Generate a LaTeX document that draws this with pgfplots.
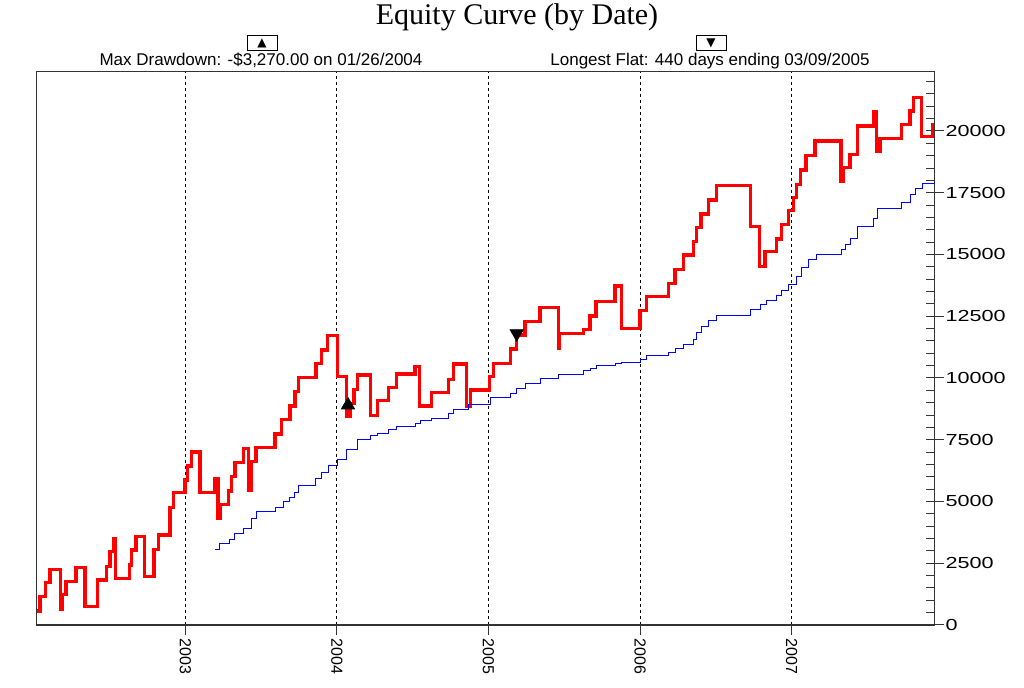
\documentclass[border=0pt]{standalone}
\usepackage{pgfplots}
\pgfplotsset{compat=1.18}
\usepackage{graphicx}
\usepackage{fontspec}
\setmainfont{Liberation Sans}
\newfontfamily\seriffont{Liberation Serif}
\newfontfamily\dejavu{DejaVu Sans}
\begin{document}
\begin{tikzpicture}
\begin{axis}[
  at={(0,0)}, anchor=south west,
  scale only axis, width=448.8pt, height=276.65pt,
  xmin=2002.0198, xmax=2007.9406, ymin=0, ymax=22400,
  axis line style={black!80, line width=0.6pt},
  scaled x ticks=false, scaled y ticks=false,
  /pgf/number format/.cd, 1000 sep={}, assume math mode=true, /pgfplots/.cd,
  xtick={2003,2004,2005,2006,2007},
  xticklabel={\pgfmathprintnumber[precision=0]{\tick}},
  xticklabel style={rotate=-90, anchor=west, font=\fontsize{8}{8}\selectfont, inner sep=1.5pt},
  xmajorgrids,
  major x grid style={black, line width=0.5pt, dash pattern=on 1.5pt off 1.5pt},
  xtick pos=left,
  ytick={0,2500,...,20000},
  ytick pos=right, yticklabel pos=right,
  tick align=outside, major tick length=5pt,
  tick style={black!80, line width=0.5pt},
  yticklabel={\scalebox{1.35}[1]{\pgfmathprintnumber[fixed, precision=0]{\tick}}},
  yticklabel style={font=\fontsize{8}{8}\selectfont, inner sep=0.5pt},
  extra y ticks={0,500,...,22000},
  extra y tick labels={},
  extra y tick style={tick align=inside, major tick length=4pt, grid=none},
]
% red equity curve
\addplot[const plot, red, line width=1.6pt] coordinates {
(2002.0198,570) (2002.0416,1146) (2002.0792,1713) (2002.1075,2255)
(2002.1781,650) (2002.1867,1227) (2002.2131,1753) (2002.2790,2336)
(2002.3384,742) (2002.4195,1822) (2002.4815,2361) (2002.5033,2968)
(2002.5251,3510) (2002.5396,1890) (2002.6306,2430) (2002.6464,3037)
(2002.6748,3575) (2002.7296,1957) (2002.7935,3065) (2002.8219,3644)
(2002.8991,4765) (2002.9208,5357) (2002.9980,5871) (2003.0132,6438)
(2003.0422,7005) (2003.0970,5373) (2003.1913,5912) (2003.2157,4320)
(2003.2289,4887) (2003.2836,5426) (2003.3061,6005) (2003.3278,6572)
(2003.3826,7139) (2003.4156,5466) (2003.4380,6612) (2003.4664,7179)
(2003.5917,7734) (2003.6359,8328) (2003.6906,8867) (2003.7236,9447)
(2003.7454,10013) (2003.8621,10596) (2003.8997,11135) (2003.9393,11714)
(2004.0026,10054) (2004.0646,8434) (2004.0864,8975) (2004.1128,9542)
(2004.1346,10122) (2004.2230,8475) (2004.2665,9082) (2004.3391,9624)
(2004.3945,10163) (2004.5152,10459) (2004.5435,8867) (2004.6253,9406)
(2004.7348,9948) (2004.7678,10568) (2004.8562,8840) (2004.8826,9515)
(2005.0053,10054) (2005.0317,10596) (2005.1464,11175) (2005.1860,11742)
(2005.2408,12281) (2005.3397,12864) (2005.4604,11204) (2005.4683,11811)
(2005.6253,11973) (2005.6695,12511) (2005.7091,13091) (2005.8344,13726)
(2005.8786,12013) (2005.9993,12727) (2006.0435,13294) (2006.1860,13836)
(2006.2302,14403) (2006.2850,14982) (2006.3509,15520) (2006.3734,16103)
(2006.4017,16642) (2006.4499,17209) (2006.5053,17788) (2006.7296,16127)
(2006.7863,14508) (2006.8239,15115) (2006.9011,15629) (2006.9340,16224)
(2006.9776,16775) (2007.0106,17302) (2007.0317,17843) (2007.0594,18423)
(2007.0943,19002) (2007.1537,19597) (2007.3252,17949) (2007.3404,18516)
(2007.3846,19059) (2007.4327,20204) (2007.5383,20784) (2007.5607,19164)
(2007.5825,19706) (2007.7256,20273) (2007.7804,20812) (2007.8021,21350)
(2007.8575,19771) (2007.9288,20273) (2007.9406,20273)
};
% blue curve
\addplot[const plot, blue, line width=0.5pt] coordinates {
(2003.1959,3037) (2003.2243,3280) (2003.2902,3442) (2003.3278,3713)
(2003.3826,3915) (2003.4380,4320) (2003.4710,4590) (2003.5917,4765)
(2003.6464,4993) (2003.6906,5171) (2003.7236,5373) (2003.7454,5640)
(2003.8621,5940) (2003.8997,6183) (2003.9433,6450) (2004.0026,6690)
(2004.0646,7114) (2004.1346,7519) (2004.2230,7681) (2004.2665,7760)
(2004.3391,7896) (2004.3945,8029) (2004.5152,8166) (2004.5482,8260)
(2004.6253,8369) (2004.7348,8543) (2004.7678,8705) (2004.8668,8908)
(2005.0099,9218) (2005.1418,9380) (2005.1860,9584) (2005.2408,9758)
(2005.3397,9989) (2005.4604,10151) (2005.6253,10297) (2005.6695,10394)
(2005.7091,10499) (2005.8344,10568) (2005.8786,10621) (2005.9993,10730)
(2006.0435,10892) (2006.1860,11025) (2006.2302,11175) (2006.2850,11350)
(2006.3509,11540) (2006.3734,11835) (2006.4017,12078) (2006.4499,12321)
(2006.5053,12540) (2006.7296,12754) (2006.7909,12957) (2006.8351,13119)
(2006.9011,13322) (2006.9340,13536) (2006.9776,13767) (2007.0284,14103)
(2007.0660,14468) (2007.1095,14779) (2007.1603,15010) (2007.3298,15212)
(2007.3516,15414) (2007.3892,15657) (2007.4327,16127) (2007.5383,16439)
(2007.5673,16844) (2007.7256,17115) (2007.7804,17411) (2007.8133,17654)
(2007.8641,17884) (2007.9406,18018)
};
% markers
\addplot[only marks, mark=triangle*, mark size=3.8pt, black] coordinates {(2004.073,8900)};
\addplot[only marks, mark=triangle*, mark size=3.8pt, black, mark options={rotate=180}] coordinates {(2005.186,11800)};
\end{axis}
% title and header annotations
\node[anchor=base, font=\seriffont\fontsize{15}{15}\selectfont, inner sep=0] at (240.15pt,300pt) {Equity Curve (by Date)};
\node[anchor=base, font=\fontsize{8.5}{8.5}\selectfont, inner sep=0] at (112.15pt,279.5pt) {Max Drawdown: -\$3,270.00 on 01/26/2004};
\node[anchor=base, font=\fontsize{8.5}{8.5}\selectfont, inner sep=0] at (336.65pt,279.5pt) {Longest Flat: 440 days ending 03/09/2005};
\node[draw=black, line width=0.5pt, minimum width=15pt, minimum height=7.5pt, inner sep=0, font=\dejavu\fontsize{6}{6}\selectfont] at (112.65pt,291pt) {▲};
\node[draw=black, line width=0.5pt, minimum width=15pt, minimum height=7.5pt, inner sep=0, font=\dejavu\fontsize{6}{6}\selectfont] at (337.15pt,291pt) {▼};
\pgfresetboundingbox
\path[use as bounding box] (-18.35pt,-31.5pt) rectangle (493.65pt,312.5pt);
\end{tikzpicture}
\end{document}
